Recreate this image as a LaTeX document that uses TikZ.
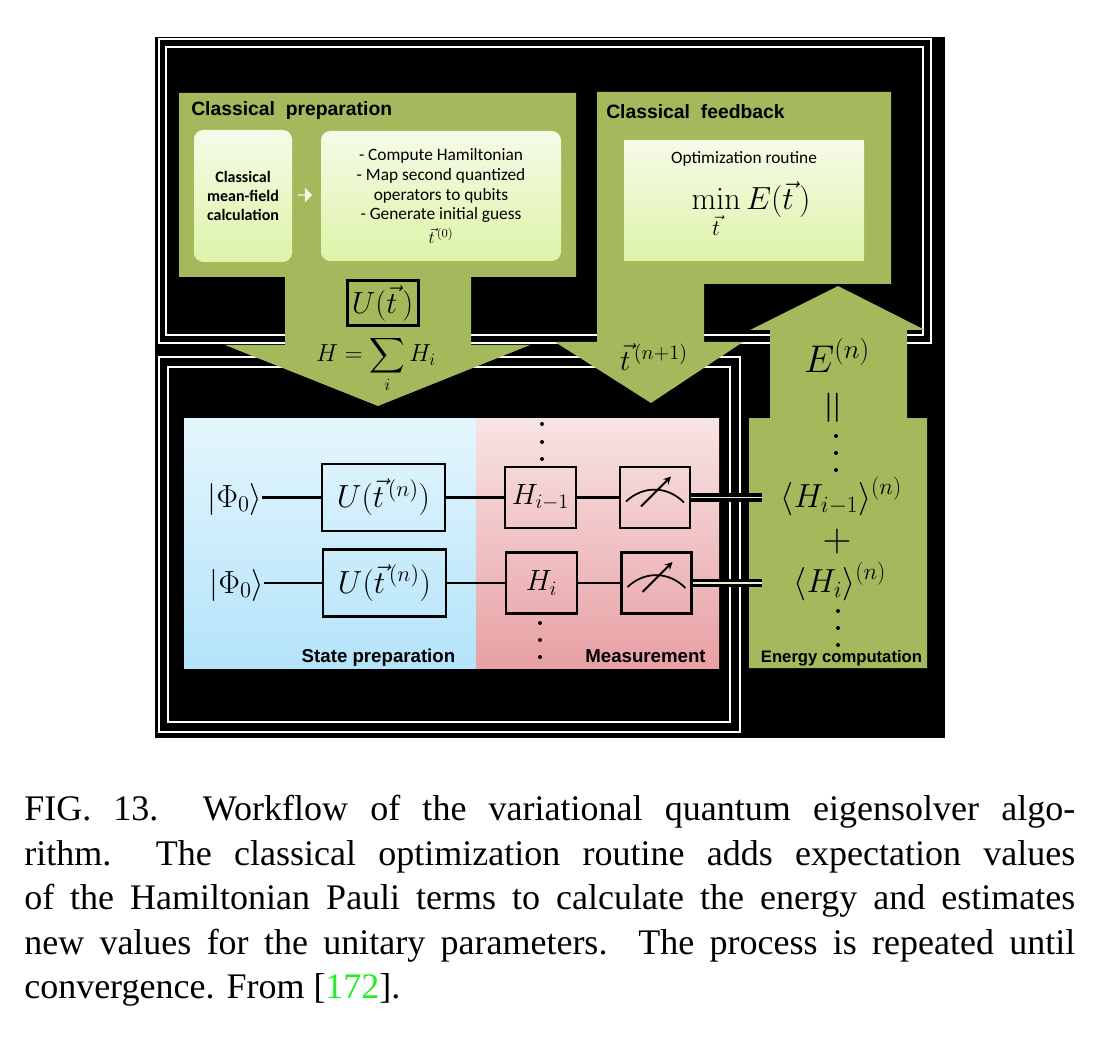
\documentclass[tikz,border=0pt]{standalone}
\usepackage{fix-cm}
\usepackage{amsmath,amssymb,amsfonts}
\usepackage[no-math]{fontspec}
\setmainfont{Liberation Serif}
\setsansfont{Liberation Sans}
\newfontfamily\calibrifont{Carlito}
\usepackage{xcolor}
\usepackage{tikz}
\usetikzlibrary{shapes.arrows, calc}
\definecolor{panelgreen}{HTML}{A4B85C}
\definecolor{softtop}{HTML}{F6FBE8}
\definecolor{softbottom}{HTML}{DDF3A8}
\definecolor{bluetop}{HTML}{E4F6FD}
\definecolor{bluebottom}{HTML}{B4E3FA}
\definecolor{pinktop}{HTML}{F8E4E4}
\definecolor{pinkbottom}{HTML}{E8A0A4}
\definecolor{citegreen}{HTML}{22EE22}

\begin{document}
\begin{tikzpicture}[
    x=0.75pt, y=-0.75pt,
    softbox/.style={rectangle, rounded corners=7pt, top color=softtop, bottom color=softbottom, inner sep=0pt, align=center},
    panel/.style={rectangle, minimum height=187.5pt, inner sep=0pt},
    gate/.style={rectangle, draw=black, line width=2pt, inner sep=0pt, minimum width=92.25pt, minimum height=50.25pt, font=\fontsize{24}{24}\selectfont},
    termgate/.style={gate, minimum width=53.25pt, minimum height=45.75pt, font=\fontsize{22}{22}\selectfont},
    meter/.style={gate, minimum width=52.5pt, minimum height=45.75pt},
    sectionlabel/.style={inner sep=0pt, anchor=base west, font=\fontsize{14.5}{14.5}\selectfont\sffamily\bfseries},
    paneltitle/.style={inner sep=0pt, anchor=base, font=\fontsize{14}{14}\selectfont\sffamily\bfseries},
    mathlabel/.style={inner sep=0pt, anchor=base},
    frameline/.style={draw=white, line width=1.5pt},
    wire/.style={draw=black, line width=2pt},
    readout/.style={draw=black, line width=2.6pt, double=white!75!panelgreen, double distance=1pt},
    dotmark/.style={fill=black}
]

% Background and frames
\useasboundingbox (0,0) rectangle (1120,1037);
\fill[black] (155,37) rectangle (945,738);
\draw[frameline] (159,39) rectangle (931,343);
\draw[frameline] (166,47) rectangle (923,335);
\draw[frameline] (159,357) rectangle (740,732);
\draw[frameline] (168,367) rectangle (730,722);

% Green blocks
\fill[panelgreen] (179,93) -- (576,93) -- (576,277) -- (471,277) -- (471,345) -- (530,345) -- (378,406) -- (225,345) -- (285,345) -- (285,277) -- (179,277) -- cycle;
\fill[panelgreen] (597,92) -- (891,92) -- (891,284) -- (704,284) -- (704,342) -- (743,342) -- (651,403) -- (555,342) -- (597,342) -- cycle;
\fill[panelgreen] (838,286) -- (925,330) -- (907,330) -- (907,418) -- (927,418) -- (927,668) -- (749,668) -- (749,418) -- (770,418) -- (770,330) -- (750,330) -- cycle;

% Classical preparation
\node[sectionlabel] (preptitle) at (191,116) {Classical\ \ preparation};
\node[softbox, minimum width=73.5pt, minimum height=99pt, font=\fontsize{12}{14}\selectfont\calibrifont\bfseries] (meanfield) at (243,196) {Classical\\mean-field\\calculation};
\node[softbox, minimum width=180pt, minimum height=97.5pt, font=\fontsize{13}{14.8}\selectfont\calibrifont] (steps) at (441,196) {- Compute Hamiltonian\\- Map second quantized\\operators to qubits\\- Generate initial guess\\[3pt]$\vec{t}^{\,(0)}$};
\node[single arrow, fill=softtop, draw=none, minimum width=11pt, minimum height=11pt, single arrow head extend=2pt, inner sep=0pt] (preparrow) at (304.5,195) {};
\node[rectangle, draw=black, line width=2.25pt, inner sep=0pt, minimum width=53.25pt, minimum height=33.75pt, font=\fontsize{23}{23}\selectfont] (ansatz) at (382.5,303.5) {$U(\vec{t}\,)$};
\node[mathlabel, font=\fontsize{18.5}{18.5}\selectfont] (hamiltonian) at (376,362) {$H=\displaystyle\sum_i H_i$};

% Classical feedback
\node[sectionlabel] (feedtitle) at (606,119) {Classical\ \ feedback};
\node[softbox, rounded corners=0pt, minimum width=180pt, minimum height=90pt] (optbox) at (744,201) {};
\node[inner sep=0pt, font=\fontsize{13}{13}\selectfont\calibrifont] (optlabel) at (744,159) {Optimization routine};
\node[mathlabel, font=\fontsize{24}{24}\selectfont] (optmin) at (751,210) {$\displaystyle\min_{\vec{t}} E(\vec{t}\,)$};
\node[mathlabel, font=\fontsize{22}{22}\selectfont] (tnext) at (654,370) {$\vec{t}^{\,(n+1)}$};
\node[mathlabel, font=\fontsize{29}{29}\selectfont] (energy) at (837,373) {$E^{(n)}$};
\node[inner sep=0pt, rotate=90, font=\fontsize{35}{35}\selectfont] (equal) at (836,408) {$=$};

% Quantum panels
\node[panel, minimum width=219pt, top color=bluetop, bottom color=bluebottom] (statepanel) at (330,543) {};
\node[panel, minimum width=182.25pt, top color=pinktop, bottom color=pinkbottom] (measpanel) at (597.5,543) {};
\node[paneltitle] (statetitle) at (378.5,662) {State preparation};
\node[paneltitle] (meastitle) at (645.5,662) {Measurement};
\node[paneltitle, font=\fontsize{12.5}{12.5}\selectfont\sffamily\bfseries] (energytitle) at (841.5,662) {Energy computation};

% Circuit rows
\node[mathlabel, font=\fontsize{24}{24}\selectfont] (phitop) at (235,507) {$|\Phi_0\rangle$};
\node[mathlabel, font=\fontsize{24}{24}\selectfont] (phibot) at (237,593) {$|\Phi_0\rangle$};
\node[gate] (utop) at (383.5,497.5) {$U(\vec{t}^{\,(n)})$};
\node[gate] (ubot) at (384.5,583) {$U(\vec{t}^{\,(n)})$};
\node[termgate] (htop) at (540.5,497.5) {$H_{i-1}$};
\node[termgate] (hbot) at (541.5,583) {$H_i$};
\node[meter] (metertop) at (655,497.5) {};
\node[meter] (meterbot) at (656.5,583) {};
\coordinate (readtop) at (762,497.5);
\coordinate (readbot) at (762,583);

% Wires
\draw[wire] (phitop.east |- utop.west) -- (utop.west);
\draw[wire] (phibot.east |- ubot.west) -- (ubot.west);
\draw[wire] (utop) -- (htop);
\draw[wire] (ubot) -- (hbot);
\draw[wire] (htop) -- (metertop);
\draw[wire] (hbot) -- (meterbot);
\draw[readout] (metertop) -- (readtop);
\draw[readout] (meterbot) -- (readbot);

% Meter dials
\foreach \m in {metertop,meterbot} {
    \draw[black, line width=1.3pt] ($(\m.center)+(-29,4)$) .. controls ($(\m.center)+(-12,-12)$) and ($(\m.center)+(12,-12)$) .. ($(\m.center)+(29,5)$);
    \draw[black, line width=1.5pt, ->, >=stealth] ($(\m.center)+(-14,9)$) -- ($(\m.center)+(16,-21)$);
}

% Energy terms
\node[mathlabel, font=\fontsize{25}{25}\selectfont] (termtop) at (841.5,507) {$\langle H_{i-1}\rangle^{(n)}$};
\node[inner sep=0pt, font=\fontsize{30}{30}\selectfont] (plus) at (837,541) {$+$};
\node[mathlabel, font=\fontsize{25}{25}\selectfont] (termbot) at (840,592) {$\langle H_i\rangle^{(n)}$};

% Vertical dots
\foreach \x/\y in {542/424, 542/442, 542/459, 540/623, 540/640, 540/657, 836/436, 836/453, 836/470, 838/611, 838/628, 838/645}
    \fill[dotmark] (\x,\y) circle (2);

% Caption
\node[inner sep=0pt, anchor=north west, text width=788.25pt, align=justify, font=\fontsize{27}{33.4}\selectfont] (caption) at (24,795) {FIG. 13.\ \ Workflow of the variational quantum eigensolver algo-\linebreak rithm.\ \ The classical optimization routine adds expectation values\linebreak of the Hamiltonian Pauli terms to calculate the energy and estimates\linebreak new values for the unitary parameters. The process is repeated until\linebreak convergence. From [\textcolor{citegreen}{172}].};

\end{tikzpicture}
\end{document}
